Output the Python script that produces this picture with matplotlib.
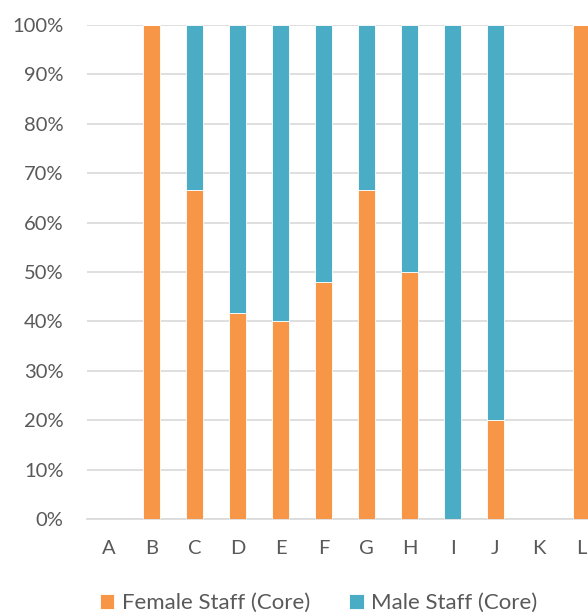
import matplotlib
matplotlib.use("Agg")
import matplotlib.pyplot as plt
import numpy as np

categories = ["A", "B", "C", "D", "E", "F", "G", "H", "I", "J", "K", "L"]
female = [0, 100, 66.7, 41.7, 40, 48, 66.7, 50, 0, 20, 0, 100]
male = [0, 0, 33.3, 58.3, 60, 52, 33.3, 50, 100, 80, 0, 0]

orange = "#F79646"
teal = "#4BACC6"
txt = "#595959"

plt.rcParams['font.family'] = ['Lato', 'DejaVu Sans']

fig = plt.figure(figsize=(5.88, 6.14), dpi=100)
ax = fig.add_axes([87/588, 95/614, 1 - 87/588, 494/614])

x = np.arange(len(categories))
w = 0.40
ax.bar(x, female, w, color=orange, edgecolor="white", linewidth=0.6, label="Female Staff (Core)", zorder=3)
ax.bar(x, male, w, bottom=female, color=teal, edgecolor="white", linewidth=0.6, label="Male Staff (Core)", zorder=3)

ax.set_ylim(0, 100)
ax.set_xlim(-0.5, 11.15)
ax.set_yticks(np.arange(0, 101, 10))
ax.set_yticklabels([f"{v}%" for v in range(0, 101, 10)])
ax.set_xticks(x)
ax.set_xticklabels(categories)
ax.grid(axis="y", color="#D9D9D9", linewidth=1.2, zorder=0)
for s in ["top", "right", "left"]:
    ax.spines[s].set_visible(False)
ax.spines["bottom"].set_color("#D9D9D9")
ax.spines["bottom"].set_linewidth(1.2)
ax.tick_params(axis="both", length=0, colors=txt, labelsize=14.5)
ax.tick_params(axis="y", pad=17)
ax.tick_params(axis="x", pad=15)

leg = fig.legend(loc="center", bbox_to_anchor=(0.542, 11/614), ncol=2, frameon=False,
                 fontsize=16, handlelength=0.65, handleheight=0.65, columnspacing=1.75,
                 handletextpad=0.35)
for t in leg.get_texts():
    t.set_color(txt)

fig.savefig("out.png", dpi=100)
